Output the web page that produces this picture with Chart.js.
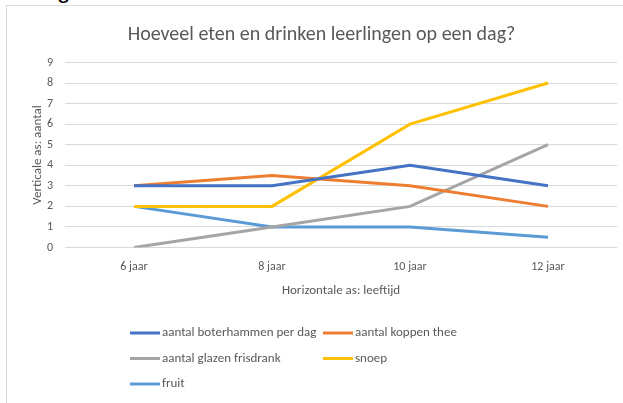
<!DOCTYPE html>
<html>
<head>
<meta charset="utf-8">
<script src="https://cdn.jsdelivr.net/npm/chart.js@4"></script>
<style>
  html, body { margin: 0; padding: 0; background: #fff; overflow: hidden; }
  #wrap { position: relative; width: 623px; height: 403px; }
  #kader { position: absolute; left: 6px; top: 5px; right: -2px; bottom: -2px;
           border-left: 1px solid #d9d9d9; border-top: 1px solid #d9d9d9; }
  #boven { position: absolute; left: 57px; top: -24px; font: 24px "Liberation Sans", sans-serif; color: #000; }
  canvas { position: absolute; left: 0; top: 0; }
</style>
</head>
<body>
<div id="wrap">
  <div id="kader"></div>
  <div id="boven">g</div>
  <canvas id="grafiek" width="623" height="403"></canvas>
</div>
<script>
// gegevens uit de grafiek
const leeftijden = ["6 jaar", "8 jaar", "10 jaar", "12 jaar"];
const boterhammen = [3, 3, 4, 3];
const thee = [3, 3.5, 3, 2];
const frisdrank = [0, 1, 2, 5];
const snoep = [2, 2, 6, 8];
const fruit = [2, 1, 1, 0.5];
const yTicks = [0, 1, 2, 3, 4, 5, 6, 7, 8, 9];

const lettertype = "'Carlito', 'Liberation Sans', sans-serif";
const grijs = "#595959";

// legenda in twee kolommen, zoals in Excel
const legendaPlugin = {
  id: "legenda2kol",
  afterDraw(chart) {
    const ctx = chart.ctx;
    const sets = chart.data.datasets;
    const startX = 130, kolBreedte = 193, startY = 333, rij = 25.5;
    ctx.save();
    ctx.font = "13px " + lettertype;
    ctx.textBaseline = "middle";
    sets.forEach((ds, i) => {
      const x = startX + (i % 2) * kolBreedte;
      const y = startY + Math.floor(i / 2) * rij;
      ctx.strokeStyle = ds.borderColor;
      ctx.lineWidth = 3;
      ctx.beginPath();
      ctx.moveTo(x, y);
      ctx.lineTo(x + 30, y);
      ctx.stroke();
      ctx.fillStyle = grijs;
      ctx.fillText(ds.label, x + 32, y);
    });
    ctx.restore();
  }
};

function lijn(label, data, kleur) {
  return {
    label: label,
    data: data,
    borderColor: kleur,
    backgroundColor: kleur,
    borderWidth: 3,
    pointRadius: 0,
    tension: 0,
    fill: false
  };
}

new Chart(document.getElementById("grafiek"), {
  type: "line",
  data: {
    labels: leeftijden,
    datasets: [
      lijn("aantal boterhammen per dag", boterhammen, "#4472C4"),
      lijn("aantal koppen thee", thee, "#ED7D31"),
      lijn("aantal glazen frisdrank", frisdrank, "#A5A5A5"),
      lijn("snoep", snoep, "#FFC000"),
      lijn("fruit", fruit, "#5B9BD5")
    ]
  },
  options: {
    responsive: false,
    animation: false,
    layout: { padding: { left: 26, right: 6, top: 0, bottom: 100.8 } },
    plugins: {
      legend: { display: false },
      tooltip: { enabled: false },
      title: {
        display: true,
        text: "Hoeveel eten en drinken leerlingen op een dag?",
        color: grijs,
        font: { family: lettertype, size: 20, weight: "normal" },
        padding: { top: 23, bottom: 15.5 }
      }
    },
    scales: {
      x: {
        offset: true,
        afterFit(scale) { scale.height = 54.7; },
        grid: { display: false, drawTicks: false },
        border: { display: false },
        ticks: { color: grijs, padding: 12, font: { family: lettertype, size: 12 } },
        title: {
          display: true,
          text: "Horizontale as: leeftijd",
          color: grijs,
          font: { family: lettertype, size: 13 },
          padding: { top: 10, bottom: 4 }
        }
      },
      y: {
        min: yTicks[0],
        max: yTicks[yTicks.length - 1],
        afterBuildTicks(scale) {
          scale.ticks = yTicks.map(v => ({ value: v }));
        },
        afterFit(scale) { scale.width = 39; },
        grid: { color: "#d9d9d9", lineWidth: 1, drawTicks: false },
        border: { display: false },
        ticks: { color: grijs, padding: 12, font: { family: lettertype, size: 12 } },
        title: {
          display: true,
          text: "Verticale as: aantal",
          color: grijs,
          font: { family: lettertype, size: 13 },
          padding: { top: 4, bottom: 4 }
        }
      }
    }
  },
  plugins: [legendaPlugin]
});
</script>
</body>
</html>
